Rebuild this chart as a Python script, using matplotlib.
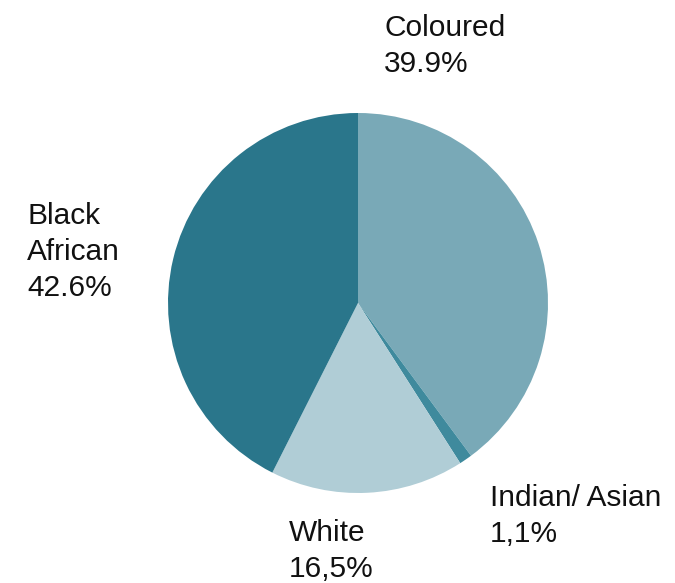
import matplotlib
matplotlib.use('Agg')
import matplotlib.pyplot as plt

# population groups, clockwise from 12 o'clock
groups = ['Coloured', 'Indian/ Asian', 'White', 'Black\nAfrican']
shares = [39.9, 1.1, 16.5, 42.6]
share_text = ['39.9%', '1,1%', '16,5%', '42.6%']
colors = ['#79a9b7', '#3f8a9d', '#b0cdd6', '#2a768b']

plt.rcParams['font.family'] = ['Liberation Sans', 'DejaVu Sans']

fig = plt.figure(figsize=(6.75, 5.83), dpi=100)
# square axes so the pie has radius 1 in data units
ax = fig.add_axes([168 / 675, 90 / 583, 380 / 675, 380 / 583])
ax.pie(shares, colors=colors, startangle=90, counterclock=False,
       radius=1, wedgeprops=dict(linewidth=0))
ax.set_xlim(-1, 1)
ax.set_ylim(-1, 1)
ax.set_aspect('equal')
ax.axis('off')

# label anchors (left edge, baseline of first line)
label_pos = [(0.137, 1.405), (0.695, -1.068), (-0.363, -1.253), (-1.742, 0.416)]
for name, txt, (x, y) in zip(groups, share_text, label_pos):
    lines = name.split('\n') + [txt]
    for i, line in enumerate(lines):
        ax.text(x, y - i * 0.19, line, ha='left', va='baseline',
                fontsize=21.5, color='#111111', clip_on=False)

fig.savefig('out.png', dpi=100)
